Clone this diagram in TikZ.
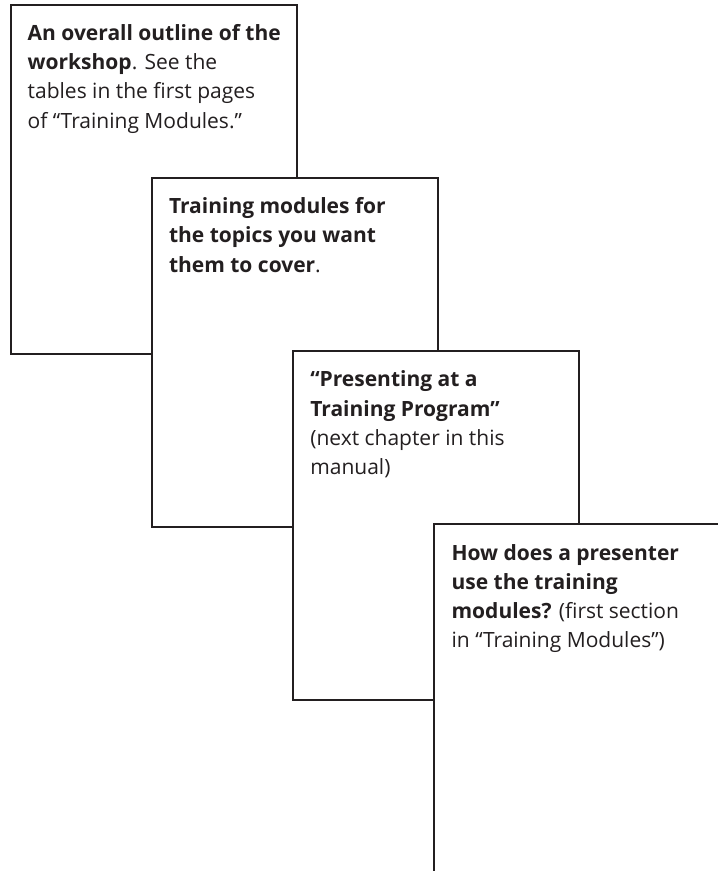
\documentclass[tikz,border=0pt]{standalone}
\usepackage{fontspec}
\setmainfont{Open Sans}
\usetikzlibrary{positioning}
\definecolor{inkgray}{HTML}{231F20}

\begin{document}
\begin{tikzpicture}[
    x=1bp, y=-1bp,
    page box/.style={draw=inkgray, line width=2bp, fill=white, inner sep=0pt, outer sep=0pt,
        minimum width=286bp, minimum height=349bp, anchor=north west},
    page text/.style={anchor=north west, inner sep=0pt, align=left, text=inkgray,
        font=\fontsize{21bp}{29.3bp}\selectfont}
]
    % Canvas
    \useasboundingbox (0,0) rectangle (718,871);
    \clip (0,0) rectangle (718,871);

    % Step from one page to the next & text inset
    \def\dx{141.3}
    \def\dy{173.3}
    \def\tx{17}
    \def\ty{19.5}

    % Page 1
    \node[page box] (outline) at (10.5,4.5) {};
    \node[page text] (outline text) at ([shift={(\tx,\ty)}]outline.north west)
        {\textbf{An overall outline of the}\\
         \textbf{workshop}. See the\\
         tables in the first pages\\
         of “Training Modules.”};

    % Page 2
    \node[page box] (modules) at ([shift={(\dx,\dy)}]outline.north west) {};
    \node[page text] (modules text) at ([shift={(\tx,\ty)}]modules.north west)
        {\textbf{Training modules for}\\
         \textbf{the topics you want}\\
         \textbf{them to cover}.};

    % Page 3
    \node[page box] (presenting) at ([shift={(\dx,\dy)}]modules.north west) {};
    \node[page text] (presenting text) at ([shift={(\tx,\ty)}]presenting.north west)
        {\textbf{“Presenting at a}\\
         \textbf{Training Program”}\\
         (next chapter in this\\
         manual)};

    % Page 4 (runs off the canvas)
    \node[page box] (usage) at ([shift={(\dx,\dy)}]presenting.north west) {};
    \node[page text] (usage text) at ([shift={(\tx,\ty)}]usage.north west)
        {\textbf{How does a presenter}\\
         \textbf{use the training}\\
         \textbf{modules?} (first section\\
         in “Training Modules”)};
\end{tikzpicture}
\end{document}
